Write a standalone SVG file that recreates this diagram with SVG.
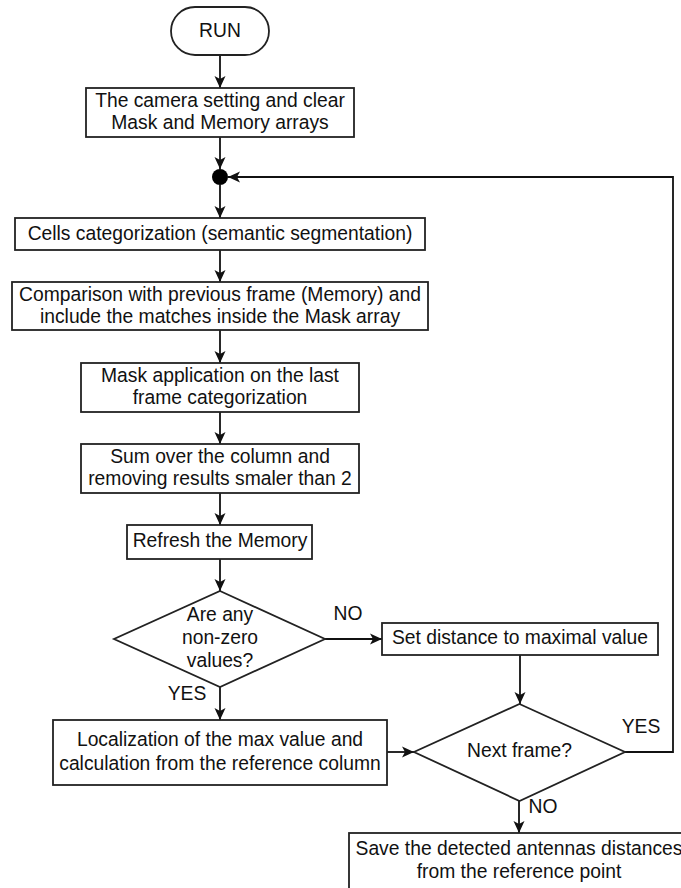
<svg xmlns="http://www.w3.org/2000/svg" width="681" height="888" viewBox="0 0 681 888">
<style>
.box{fill:#fff;stroke:#222;stroke-width:1.8}
.t{font-family:"Liberation Sans",Arial,sans-serif;font-size:19.3px;fill:#111;text-anchor:middle}
.c{fill:none;stroke:#111;stroke-width:1.8}
</style>
<defs>
<marker id="a" markerUnits="userSpaceOnUse" markerWidth="14" markerHeight="14" viewBox="0 0 14 14" refX="13" refY="7" orient="auto">
<path d="M1,1.5 L13,7 L1,12.5 L4,7 Z" fill="#111"/>
</marker>
</defs>
<g id="connectors">
<line class="c" x1="220" y1="55" x2="220" y2="88" marker-end="url(#a)"/>
<line class="c" x1="220" y1="137" x2="220" y2="169" marker-end="url(#a)"/>
<line class="c" x1="220" y1="185" x2="220" y2="218" marker-end="url(#a)"/>
<line class="c" x1="220" y1="250" x2="220" y2="282" marker-end="url(#a)"/>
<line class="c" x1="220" y1="330" x2="220" y2="363" marker-end="url(#a)"/>
<line class="c" x1="220" y1="412" x2="220" y2="444" marker-end="url(#a)"/>
<line class="c" x1="220" y1="493" x2="220" y2="525" marker-end="url(#a)"/>
<line class="c" x1="220" y1="559" x2="220" y2="591" marker-end="url(#a)"/>
<line class="c" x1="325" y1="639" x2="382" y2="639" marker-end="url(#a)"/>
<line class="c" x1="220" y1="687" x2="220" y2="720" marker-end="url(#a)"/>
<line class="c" x1="520" y1="655" x2="520" y2="704" marker-end="url(#a)"/>
<line class="c" x1="387" y1="752" x2="414" y2="752" marker-end="url(#a)"/>
<line class="c" x1="519" y1="801" x2="519" y2="833" marker-end="url(#a)"/>
<path class="c" d="M625,752 H673 V177 H228" marker-end="url(#a)"/>
<text class="t" x="348" y="620">NO</text>
<text class="t" x="187" y="700">YES</text>
<text class="t" x="641" y="733">YES</text>
<text class="t" x="543" y="813">NO</text>
</g>
<g id="run">
<rect class="box" x="171" y="7" width="98" height="48" rx="24" ry="24"/>
<text class="t" x="220" y="37">RUN</text>
</g>
<g id="setup">
<rect class="box" x="86" y="88" width="268" height="49"/>
<text class="t" x="220" y="107">The camera setting and clear</text>
<text class="t" x="220" y="129">Mask and Memory arrays</text>
</g>
<g id="junction">
<circle cx="220" cy="177" r="8" fill="#000"/>
</g>
<g id="cells">
<rect class="box" x="15" y="218" width="410" height="32"/>
<text class="t" x="220" y="240">Cells categorization (semantic segmentation)</text>
</g>
<g id="comparison">
<rect class="box" x="12" y="282" width="416" height="48"/>
<text class="t" x="220" y="301">Comparison with previous frame (Memory) and</text>
<text class="t" x="220" y="323">include the matches inside the Mask array</text>
</g>
<g id="mask">
<rect class="box" x="81" y="363" width="278" height="49"/>
<text class="t" x="220" y="382">Mask application on the last</text>
<text class="t" x="220" y="404">frame categorization</text>
</g>
<g id="sum">
<rect class="box" x="81" y="444" width="278" height="49"/>
<text class="t" x="220" y="463">Sum over the column and</text>
<text class="t" x="220" y="485">removing results smaler than 2</text>
</g>
<g id="refresh">
<rect class="box" x="127" y="525" width="185" height="34"/>
<text class="t" x="220" y="547">Refresh the Memory</text>
</g>
<g id="nonzero">
<polygon class="box" points="220,591 325,639 220,687 114,639"/>
<text class="t" x="220" y="621">Are any</text>
<text class="t" x="220" y="644">non-zero</text>
<text class="t" x="220" y="667">values?</text>
</g>
<g id="setmax">
<rect class="box" x="382" y="623" width="276" height="32"/>
<text class="t" x="520" y="644">Set distance to maximal value</text>
</g>
<g id="localization">
<rect class="box" x="53" y="720" width="334" height="65"/>
<text class="t" x="220" y="746">Localization of the max value and</text>
<text class="t" x="220" y="770">calculation from the reference column</text>
</g>
<g id="nextframe">
<polygon class="box" points="519.5,704 625,752 519.5,801 414,752"/>
<text class="t" x="519.5" y="757">Next frame?</text>
</g>
<g id="save">
<rect class="box" x="349" y="833" width="340" height="62"/>
<text class="t" x="519" y="855">Save the detected antennas distances</text>
<text class="t" x="519" y="878">from the reference point</text>
</g>
</svg>
